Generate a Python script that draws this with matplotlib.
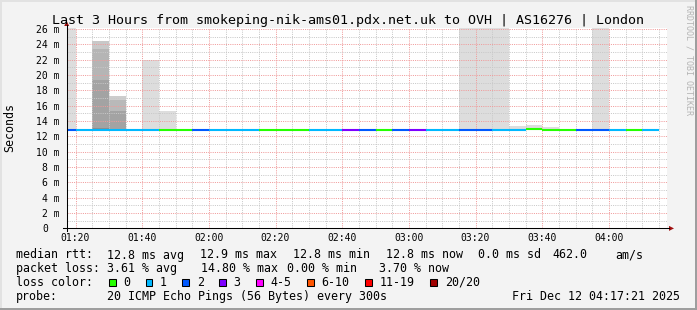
import matplotlib.pyplot as plt
from matplotlib.patches import Rectangle, Polygon
from matplotlib.transforms import ScaledTranslation

plt.rcParams['font.family'] = ['DejaVu Sans Mono']

W, H = 697, 310

# ---- data -------------------------------------------------------------
# time axis in minutes after midnight (window 01:17:21 - 04:17:21)
t_start = 77.35
t_end = 257.35
first_bin = 75          # 01:15, RRD step 5 min
step = 5

# lost pings (of 20) per 5-minute bin
loss = [2, 1, 1, 1, 1, 1, 0, 0, 2, 1, 1, 1, 0, 0, 0, 1, 1, 3,
        2, 0, 2, 3, 1, 1, 2, 2, 1, 1, 0, 0, 0, 2, 2, 1, 0, 1]

# median rtt per bin (ms)
median = [12.85, 12.85, 12.85, 12.85, 12.85, 12.85, 12.85, 12.85, 12.85,
          12.85, 12.85, 12.85, 12.85, 12.85, 12.85, 12.85, 12.85, 12.85,
          12.85, 12.85, 12.85, 12.85, 12.85, 12.85, 12.85, 12.85, 12.85,
          12.85, 12.9, 12.85, 12.85, 12.85, 12.85, 12.85, 12.85, 12.85]

# smoke bands: bin index, top of band (ms), grey shade
smoke_bin = [0, 2, 2, 2, 2, 3, 3, 3, 5, 6, 24, 25, 26, 27, 28, 29, 32]
smoke_top = [30, 24.4, 23.4, 19.4, 13.1, 17.25, 16.7, 15.3, 22.0, 15.3,
             30, 30, 30, 13.35, 13.5, 13.2, 30]
smoke_shade = ['#dddddd', '#c8c8c8', '#b5b5b5', '#a3a3a3', '#8e8e8e',
               '#cdcdcd', '#b9b9b9', '#a3a3a3', '#dddddd', '#dddddd',
               '#dddddd', '#dddddd', '#dddddd', '#dddddd', '#dddddd',
               '#dddddd', '#dddddd']

loss_labels = ['0', '1', '2', '3', '4-5', '6-10', '11-19', '20/20']
loss_limits = [0, 1, 2, 3, 5, 10, 19, 20]
loss_colors = ['#26ff00', '#00b8ff', '#0059ff', '#7e00ff', '#ff00ff',
               '#ff5500', '#ff0000', '#a10000']

x_ticks = [80, 100, 120, 140, 160, 180, 200, 220, 240]
x_labels = ['01:20', '01:40', '02:00', '02:20', '02:40', '03:00', '03:20', '03:40', '04:00']

title = 'Last 3 Hours from smokeping-nik-ams01.pdx.net.uk to OVH | AS16276 | London'
rtt_fields = ['12.8 ms avg', '12.9 ms max', '12.8 ms min', '12.8 ms now', '0.0 ms sd', '462.0', 'am/s']
loss_fields = ['3.61 % avg', '14.80 % max', '0.00 % min', '3.70 % now']
probe_text = '20 ICMP Echo Pings (56 Bytes) every 300s'
stamp = 'Fri Dec 12 04:17:21 2025'


def loss_color(n):
    for lim, c in zip(loss_limits, loss_colors):
        if n <= lim:
            return c
    return loss_colors[-1]


# ---- figure -----------------------------------------------------------
fig = plt.figure(figsize=(W / 100, H / 100), dpi=100, facecolor='#f3f3f3')
ax = fig.add_axes([66.7 / W, (H - 228.4) / H, 600 / W, 200 / H])
ax.set_facecolor('white')
ax.set_xlim(t_start, t_end)
ax.set_ylim(0, 26.08)

# smoke
for b, top, shade in zip(smoke_bin, smoke_top, smoke_shade):
    left = first_bin + b * step
    ax.bar(left, top - median[b], bottom=median[b], width=step, align='edge',
           color=shade, linewidth=0, zorder=1)

# median line coloured by loss
lefts = [first_bin + i * step for i in range(len(median))]
rights = [l + step for l in lefts]
ax.hlines(median, lefts, rights, colors=[loss_color(n) for n in loss],
          linewidth=1.5, capstyle='butt', zorder=3)

# grid
ax.set_xticks(x_ticks)
ax.set_xticklabels(x_labels)
ax.set_xticks(range(80, 256, 5), minor=True)
ax.set_yticks(range(0, 27, 2))
ax.set_yticklabels(['0'] + ['%d m' % v for v in range(2, 27, 2)])
ax.set_yticks(range(1, 27), minor=True)
ax.set_axisbelow(False)
ax.grid(which='minor', color='#c8c8c8', linewidth=0.72, linestyle=(0, (1, 1.2)))
ax.grid(which='major', color='#f09a9a', linewidth=0.72, linestyle=(0, (1, 1.2)))
ax.tick_params(which='both', length=0, labelsize=7, colors='black')
ax.tick_params(axis='x', pad=3.3)
ax.tick_params(axis='y', pad=5)
for s in ax.spines.values():
    s.set_visible(False)
zero = ax.get_yticklabels()[0]
zero.set_transform(zero.get_transform() + ScaledTranslation(-0.12, 0, fig.dpi_scale_trans))

# ---- overlay in pixel coordinates --------------------------------------
ov = fig.add_axes([0, 0, 1, 1], facecolor='none')
ov.set_xlim(0, W)
ov.set_ylim(H, 0)
ov.axis('off')

ov.add_patch(Rectangle((0, 0), W, 2, color='#e2e2e2', lw=0))
ov.add_patch(Rectangle((0, 0), 2, H, color='#e2e2e2', lw=0))
ov.add_patch(Rectangle((0, H - 2), W, 2, color='#9e9e9e', lw=0))
ov.add_patch(Rectangle((W - 2, 0), 2, H, color='#9e9e9e', lw=0))

ov.plot([66.7, 66.7], [231, 25], color='black', lw=0.75)
ov.plot([63, 669], [228.4, 228.4], color='black', lw=0.75)
ov.add_patch(Polygon([(64.2, 26), (69.2, 26), (66.7, 21)], color='#a01010', lw=0))
ov.add_patch(Polygon([(669, 225.9), (669, 230.9), (674, 228.4)], color='#a01010', lw=0))

ov.text(W / 2, 24, title, fontsize=9.6, ha='center', va='baseline')
ov.text(10, 128, 'Seconds', fontsize=8.4, rotation=90, ha='center', va='center')
ov.text(689, 5, 'RRDTOOL / TOBI OETIKER', fontsize=6, rotation=270,
        ha='center', va='top', color='#b4b4b4')

fs = 8.4
rows = [258.5, 272.2, 285.9, 299.6]
ov.text(16, rows[0], 'median rtt:', fontsize=fs, va='baseline')
for x, s in zip([107, 200, 293, 386.5, 478, 552, 615], rtt_fields):
    ov.text(x, rows[0], s, fontsize=fs, va='baseline')
ov.text(16, rows[1], 'packet loss:', fontsize=fs, va='baseline')
for x, s in zip([107, 200.7, 286.7, 379.3], loss_fields):
    ov.text(x, rows[1], s, fontsize=fs, va='baseline')
ov.text(16, rows[2], 'loss color:', fontsize=fs, va='baseline')
bx = 108.7
for lab, c in zip(loss_labels, loss_colors):
    ov.add_patch(Rectangle((bx, 278.5), 6.8, 7.6, facecolor=c, edgecolor='black', lw=0.75))
    ov.text(bx + 14.5, rows[2], lab, fontsize=fs, va='baseline')
    bx = bx + 14.5 + len(lab) * 7.1 + 15.2
ov.text(16, rows[3], 'probe:', fontsize=fs, va='baseline')
ov.text(107, rows[3], probe_text, fontsize=fs, va='baseline')
ov.text(680, rows[3], stamp, fontsize=fs, va='baseline', ha='right')

fig.savefig('out.png', dpi=100, facecolor=fig.get_facecolor())
